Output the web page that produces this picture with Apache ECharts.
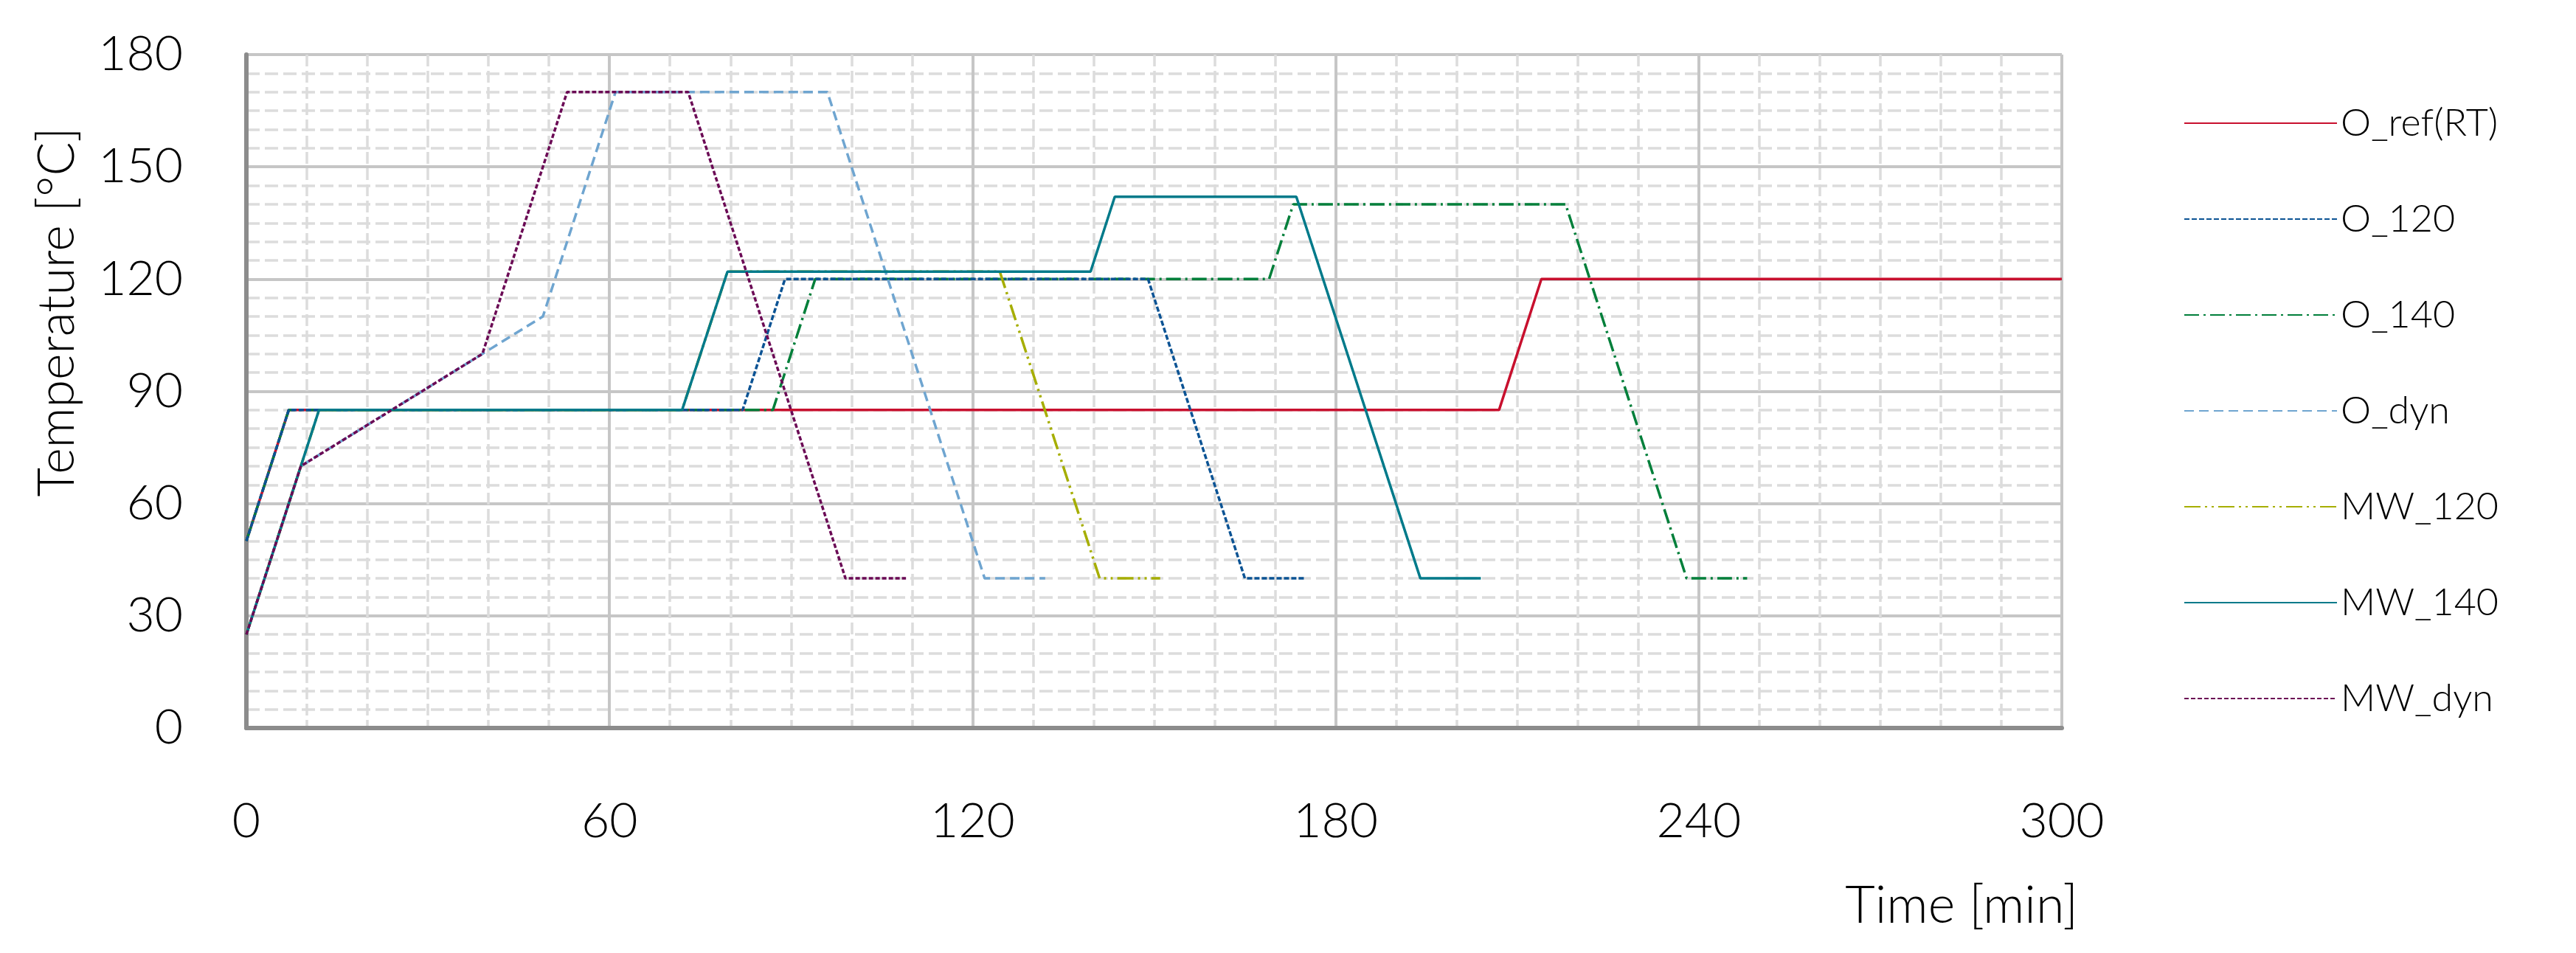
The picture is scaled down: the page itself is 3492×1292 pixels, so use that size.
<!DOCTYPE html>
<html>
<head>
<meta charset="utf-8">
<script src="https://cdn.jsdelivr.net/npm/echarts@6/dist/echarts.min.js"></script>
<style>
html,body{margin:0;padding:0;background:#fff;}
#chart{width:3492px;height:1292px;}
</style>
</head>
<body>
<div id="chart"></div>
<script>
// ---- data (time in min, temperature in °C) ----
const seriesNames = ['O_ref(RT)', 'O_120', 'O_140', 'O_dyn', 'MW_120', 'MW_140', 'MW_dyn'];

const oRefTime = [0, 7, 207, 214, 300];
const oRefTemp = [50, 85, 85, 120, 120];

const o120Time = [0, 7, 82, 89, 149, 165, 175];
const o120Temp = [50, 85, 85, 120, 120, 40, 40];

const o140Time = [0, 7, 87, 94, 169, 173, 218, 238, 248];
const o140Temp = [50, 85, 85, 120, 120, 140, 140, 40, 40];

const oDynTime = [0, 9, 39, 49, 61, 96, 122, 132];
const oDynTemp = [25, 70, 100, 110, 170, 170, 40, 40];

const mw120Time = [0, 12, 72, 79.5, 124.5, 141, 151];
const mw120Temp = [25, 85, 85, 122, 122, 40, 40];

const mw140Time = [0, 12, 72, 79.5, 139.5, 143.5, 173.5, 194, 204];
const mw140Temp = [25, 85, 85, 122, 122, 142, 142, 40, 40];

const mwDynTime = [0, 9, 39, 53, 73, 99, 109];
const mwDynTemp = [25, 70, 100, 170, 170, 40, 40];

const xTicks = [0, 60, 120, 180, 240, 300];
const yTicks = [0, 30, 60, 90, 120, 150, 180];

// ---- styles ----
const styles = [
  {color: '#C8102E', type: 'solid', width: 3.5, z: 2},
  {color: '#0B5394', type: [7, 3], width: 3.5, z: 4},
  {color: '#007F3A', type: [20, 6, 3, 6], width: 3.5, z: 3},
  {color: '#6FA5D0', type: [13, 7], width: 3.5, z: 5},
  {color: '#A6AE00', type: [22, 6, 3, 6, 3, 6], width: 3.5, z: 6},
  {color: '#007A8A', type: 'solid', width: 3.5, z: 7},
  {color: '#6B0A55', type: [6, 3], width: 3.5, z: 8}
];

const times = [oRefTime, o120Time, o140Time, oDynTime, mw120Time, mw140Time, mwDynTime];
const temps = [oRefTemp, o120Temp, o140Temp, oDynTemp, mw120Temp, mw140Temp, mwDynTemp];

const FONT = 'Lato, "Noto Sans", sans-serif';

const series = seriesNames.map((name, i) => ({
  name: name,
  type: 'line',
  data: times[i].map((t, k) => [t, temps[i][k]]),
  symbol: 'none',
  showSymbol: false,
  animation: false,
  lineStyle: {color: styles[i].color, type: styles[i].type, width: styles[i].width},
  itemStyle: {color: styles[i].color},
  z: styles[i].z
}));

const chart = echarts.init(document.getElementById('chart'), null, {renderer: 'canvas'});
chart.setOption({
  animation: false,
  backgroundColor: '#ffffff',
  grid: {left: 334, right: 697, top: 74, bottom: 305, containLabel: false},
  xAxis: {
    type: 'value', min: xTicks[0], max: xTicks[xTicks.length - 1], interval: 60,
    axisLine: {show: true, onZero: false, lineStyle: {color: '#8C8C8C', width: 6}},
    axisTick: {show: false},
    axisLabel: {fontSize: 66, color: '#000', fontFamily: FONT, fontWeight: 300, margin: 94},
    splitLine: {show: true, lineStyle: {color: '#C6C6C6', width: 4}},
    minorTick: {show: false, splitNumber: 6},
    minorSplitLine: {show: true, lineStyle: {color: '#DCDCDC', width: 3.5, type: [16, 6]}}
  },
  yAxis: {
    type: 'value', min: yTicks[0], max: yTicks[yTicks.length - 1], interval: 30,
    axisLine: {show: true, onZero: false, lineStyle: {color: '#8C8C8C', width: 6}},
    axisTick: {show: false},
    axisLabel: {fontSize: 66, color: '#000', fontFamily: FONT, fontWeight: 300, margin: 86},
    splitLine: {show: true, lineStyle: {color: '#C6C6C6', width: 4}},
    minorTick: {show: false, splitNumber: 6},
    minorSplitLine: {show: true, lineStyle: {color: '#DCDCDC', width: 3.5, type: [18, 7]}}
  },
  legend: {
    orient: 'vertical',
    left: 2955, top: 136,
    itemWidth: 207, itemHeight: 20, itemGap: 78,
    icon: 'inherit',
    itemStyle: {opacity: 0},
    textStyle: {fontSize: 52, color: '#000', fontFamily: FONT, fontWeight: 300, lineHeight: 52},
    data: seriesNames
  },
  graphic: [
    {type: 'text', x: 78, y: 423, rotation: Math.PI / 2,
     style: {text: 'Temperature [°C]', fontSize: 68, fontFamily: FONT, fontWeight: 300, fill: '#000', textAlign: 'center', textVerticalAlign: 'middle'}},
    {type: 'text', x: 2817, y: 1228,
     style: {text: 'Time [min]', fontSize: 70, fontFamily: FONT, fontWeight: 300, fill: '#000', textAlign: 'right', textVerticalAlign: 'middle'}}
  ],
  series: series
});
</script>
</body>
</html>
